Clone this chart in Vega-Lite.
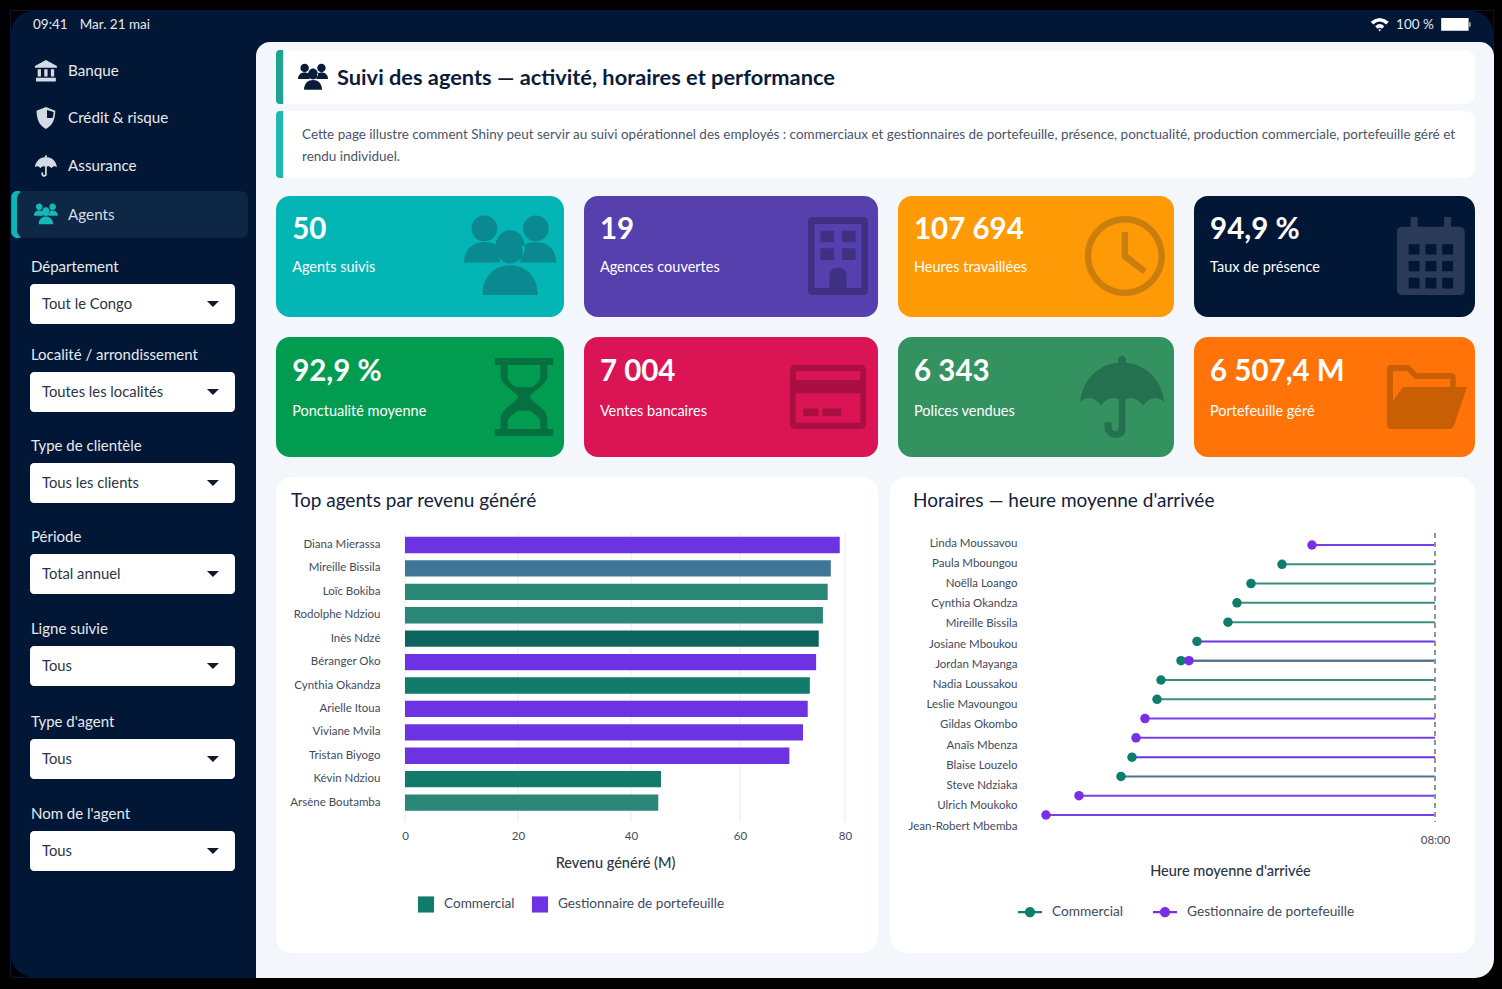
{"$schema":"https://vega.github.io/schema/vega-lite/v6.json",
"background":"#f3f6fa","padding":0,"spacing":0,
"config":{"font":"Lato","view":{"stroke":null},"axis":{"disable":true,"grid":false,"domain":false,"ticks":false,"labelFlush":false,"labelColor":"#3f4a5c","labelFontSize":11.5,"titleColor":"#2b3445","titleFontSize":14.5,"titleFontWeight":500},"text":{"align":"left","baseline":"middle","font":"Lato"},"point":{"filled":true,"opacity":1}},
"vconcat":[
{"width":1502,"height":10,"view":{"fill":"#000000"},"data":{"values":[]},"mark":"rule","encoding":{"opacity":{"value":0}}},
{"spacing":0,"hconcat":[
{"width":10,"height":968,"view":{"fill":"#000000"},"data":{"values":[]},"mark":"rule","encoding":{"opacity":{"value":0}}},
{"spacing":0,"vconcat":[
 {"width":1484,"height":32,"view":{"fill":"#021735"},"data":{"values":[{"heure":"09:41","date":"Mar. 21 mai","batterie":"100 %"}]},"layer":[
  {"mark":{"type":"text","fontSize":13.5,"color":"#e6eaf0"},"encoding":{"text":{"field":"heure"},"x":{"datum":1.55,"scale":{"domain":[0,100]}},"y":{"datum":48,"scale":{"domain":[100,0]}}}},
  {"mark":{"type":"text","fontSize":13.5,"color":"#e6eaf0"},"encoding":{"text":{"field":"date"},"x":{"datum":4.7},"y":{"datum":48}}},
  {"mark":{"type":"text","fontSize":13.5,"color":"#e6eaf0"},"encoding":{"text":{"field":"batterie"},"x":{"datum":93.4},"y":{"datum":48}}},
  {"mark":{"type":"point","shape":"M-1,-.3 Q0,-1.1 1,-.3 L.72,0 Q0,-.65 -.72,0Z M-.5,.2 Q0,-.3 .5,.2 L.25,.48 Q0,.25 -.25,.48Z M-.15,.6 Q0,.45 .15,.6 L0,.8Z","color":"#ffffff","size":324},"encoding":{"x":{"datum":92.3},"y":{"datum":45}}},
  {"mark":{"type":"point","shape":"M-.95,-.42 H.88 V.42 H-.95Z M.93,-.15 H1 V.15 H.93Z","color":"#ffffff","size":900},"encoding":{"x":{"datum":97.4},"y":{"datum":45}}},
  {"mark":{"type":"point","shape":"M-1,-1 H1 A2,2 0 0,0 -1,1Z","color":"#000000","size":484},"encoding":{"x":{"datum":0.82},"y":{"datum":37.5}}},
  {"mark":{"type":"point","shape":"M1,-1 V1 A2,2 0 0,0 -1,-1Z","color":"#000000","size":484},"encoding":{"x":{"datum":99.2},"y":{"datum":37.5}}}
 ]},
 {"spacing":0,"hconcat":[
  {"width":246,"height":936,"view":{"fill":"#021735"},"data":{"values":[{}]},"layer":[
   {"mark":{"type":"rect","color":"#10b5b5","cornerRadius":6},"encoding":{"x":{"datum":0.5,"scale":{"domain":[0,100]}},"x2":{"datum":5.7},"y":{"datum":15.92,"scale":{"domain":[100,0]}},"y2":{"datum":20.94}}},
   {"mark":{"type":"rect","color":"#0d2744","cornerRadius":8},"encoding":{"x":{"datum":2.85},"x2":{"datum":96.75},"y":{"datum":15.92},"y2":{"datum":20.94}}},
   {"mark":{"type":"point","shape":"M0,-1 L1,-.45 V-.3 H-1 V-.45Z M-.75,-.15 H-.45 V.5 H-.75Z M-.15,-.15 H.15 V.5 H-.15Z M.45,-.15 H.75 V.5 H.45Z M-.9,.62 H.9 V.95 H-.9Z","color":"#d5dbe4","size":484},"encoding":{"x":{"datum":14.6},"y":{"datum":3.1}}},
   {"mark":{"type":"point","shape":"M0,-1 L.85,-.65 C.85,.1 .6,.7 0,1 C-.6,.7 -.85,.1 -.85,-.65Z M.1,-.72 V0 H.6 C.68,-.2 .7,-.4 .7,-.55Z","color":"#d5dbe4","size":484},"encoding":{"x":{"datum":14.6},"y":{"datum":8.12}}},
   {"mark":{"type":"point","shape":"M-1,.12 C-.95,-.45 -.5,-.82 0,-.82 C.5,-.82 .95,-.45 1,.12 C.85,-.02 .68,-.02 .5,.2 C.32,-.02 .14,-.02 0,.12 C-.14,-.02 -.32,-.02 -.5,.2 C-.68,-.02 -.85,-.02 -1,.12Z M-.1,-.88 A.1,.1 0 1,1 .1,-.88 A.1,.1 0 1,1 -.1,-.88Z M-.08,.05 H.08 V.78 C.08,1.05 -.4,1.05 -.42,.72 L-.42,.6 H-.25 V.72 C-.25,.85 -.08,.85 -.08,.72Z","color":"#d5dbe4","size":484},"encoding":{"x":{"datum":14.6},"y":{"datum":13.25}}},
   {"mark":{"type":"point","shape":"M-.84,-.6 a.28,.28 0 1,1 .56,0 a.28,.28 0 1,1 -.56,0Z M.28,-.6 a.28,.28 0 1,1 .56,0 a.28,.28 0 1,1 -.56,0Z M-.32,-.2 a.32,.36 0 1,1 .64,0 a.32,.36 0 1,1 -.64,0Z M-1,.14 C-1,-.2 -.75,-.32 -.5,-.3 C-.4,-.3 -.3,-.25 -.25,-.2 C-.3,-.05 -.25,.05 -.2,.14Z M1,.14 C1,-.2 .75,-.32 .5,-.3 C.4,-.3 .3,-.25 .25,-.2 C.3,-.05 .25,.05 .2,.14Z M-.6,.85 C-.6,.4 -.3,.2 0,.2 C.3,.2 .6,.4 .6,.85Z","color":"#14b8b8","size":576},"encoding":{"x":{"datum":14.6},"y":{"datum":18.38}}},
   {"mark":{"type":"text","fontSize":15.2,"color":"#e6eaf0"},"encoding":{"text":{"datum":"Banque"},"x":{"datum":23.6},"y":{"datum":3.15}}},
   {"mark":{"type":"text","fontSize":15.2,"color":"#e6eaf0"},"encoding":{"text":{"datum":"Crédit & risque"},"x":{"datum":23.6},"y":{"datum":8.17}}},
   {"mark":{"type":"text","fontSize":15.2,"color":"#e6eaf0"},"encoding":{"text":{"datum":"Assurance"},"x":{"datum":23.6},"y":{"datum":13.3}}},
   {"mark":{"type":"text","fontSize":15.2,"color":"#d5dee8"},"encoding":{"text":{"datum":"Agents"},"x":{"datum":23.6},"y":{"datum":18.43}}},

   {"mark":{"type":"text","fontSize":15,"color":"#e6eaf0"},"encoding":{"text":{"datum":"Département"},"x":{"datum":8.5},"y":{"datum":24.09}}},
   {"mark":{"type":"rect","color":"#ffffff","cornerRadius":4},"encoding":{"x":{"datum":8.13},"x2":{"datum":91.46},"y":{"datum":25.85},"y2":{"datum":30.13}}},
   {"mark":{"type":"text","fontSize":14.8,"color":"#2b3445"},"encoding":{"text":{"datum":"Tout le Congo"},"x":{"datum":13},"y":{"datum":28.09}}},
   {"mark":{"type":"point","shape":"M-1,-.5 H1 L0,.5Z","color":"#0f1a2c","size":144},"encoding":{"x":{"datum":82.5},"y":{"datum":27.99}}},

   {"mark":{"type":"text","fontSize":15,"color":"#e6eaf0"},"encoding":{"text":{"datum":"Localité / arrondissement"},"x":{"datum":8.5},"y":{"datum":33.49}}},
   {"mark":{"type":"rect","color":"#ffffff","cornerRadius":4},"encoding":{"x":{"datum":8.13},"x2":{"datum":91.46},"y":{"datum":35.26},"y2":{"datum":39.53}}},
   {"mark":{"type":"text","fontSize":14.8,"color":"#2b3445"},"encoding":{"text":{"datum":"Toutes les localités"},"x":{"datum":13},"y":{"datum":37.49}}},
   {"mark":{"type":"point","shape":"M-1,-.5 H1 L0,.5Z","color":"#0f1a2c","size":144},"encoding":{"x":{"datum":82.5},"y":{"datum":37.39}}},

   {"mark":{"type":"text","fontSize":15,"color":"#e6eaf0"},"encoding":{"text":{"datum":"Type de clientèle"},"x":{"datum":8.5},"y":{"datum":43.21}}},
   {"mark":{"type":"rect","color":"#ffffff","cornerRadius":4},"encoding":{"x":{"datum":8.13},"x2":{"datum":91.46},"y":{"datum":44.98},"y2":{"datum":49.25}}},
   {"mark":{"type":"text","fontSize":14.8,"color":"#2b3445"},"encoding":{"text":{"datum":"Tous les clients"},"x":{"datum":13},"y":{"datum":47.22}}},
   {"mark":{"type":"point","shape":"M-1,-.5 H1 L0,.5Z","color":"#0f1a2c","size":144},"encoding":{"x":{"datum":82.5},"y":{"datum":47.12}}},

   {"mark":{"type":"text","fontSize":15,"color":"#e6eaf0"},"encoding":{"text":{"datum":"Période"},"x":{"datum":8.5},"y":{"datum":52.93}}},
   {"mark":{"type":"rect","color":"#ffffff","cornerRadius":4},"encoding":{"x":{"datum":8.13},"x2":{"datum":91.46},"y":{"datum":54.7},"y2":{"datum":58.97}}},
   {"mark":{"type":"text","fontSize":14.8,"color":"#2b3445"},"encoding":{"text":{"datum":"Total annuel"},"x":{"datum":13},"y":{"datum":56.94}}},
   {"mark":{"type":"point","shape":"M-1,-.5 H1 L0,.5Z","color":"#0f1a2c","size":144},"encoding":{"x":{"datum":82.5},"y":{"datum":56.84}}},

   {"mark":{"type":"text","fontSize":15,"color":"#e6eaf0"},"encoding":{"text":{"datum":"Ligne suivie"},"x":{"datum":8.5},"y":{"datum":62.76}}},
   {"mark":{"type":"rect","color":"#ffffff","cornerRadius":4},"encoding":{"x":{"datum":8.13},"x2":{"datum":91.46},"y":{"datum":64.53},"y2":{"datum":68.8}}},
   {"mark":{"type":"text","fontSize":14.8,"color":"#2b3445"},"encoding":{"text":{"datum":"Tous"},"x":{"datum":13},"y":{"datum":66.77}}},
   {"mark":{"type":"point","shape":"M-1,-.5 H1 L0,.5Z","color":"#0f1a2c","size":144},"encoding":{"x":{"datum":82.5},"y":{"datum":66.67}}},

   {"mark":{"type":"text","fontSize":15,"color":"#e6eaf0"},"encoding":{"text":{"datum":"Type d'agent"},"x":{"datum":8.5},"y":{"datum":72.7}}},
   {"mark":{"type":"rect","color":"#ffffff","cornerRadius":4},"encoding":{"x":{"datum":8.13},"x2":{"datum":91.46},"y":{"datum":74.47},"y2":{"datum":78.74}}},
   {"mark":{"type":"text","fontSize":14.8,"color":"#2b3445"},"encoding":{"text":{"datum":"Tous"},"x":{"datum":13},"y":{"datum":76.7}}},
   {"mark":{"type":"point","shape":"M-1,-.5 H1 L0,.5Z","color":"#0f1a2c","size":144},"encoding":{"x":{"datum":82.5},"y":{"datum":76.6}}},

   {"mark":{"type":"text","fontSize":15,"color":"#e6eaf0"},"encoding":{"text":{"datum":"Nom de l'agent"},"x":{"datum":8.5},"y":{"datum":82.53}}},
   {"mark":{"type":"rect","color":"#ffffff","cornerRadius":4},"encoding":{"x":{"datum":8.13},"x2":{"datum":91.46},"y":{"datum":84.29},"y2":{"datum":88.57}}},
   {"mark":{"type":"text","fontSize":14.8,"color":"#2b3445"},"encoding":{"text":{"datum":"Tous"},"x":{"datum":13},"y":{"datum":86.53}}},
   {"mark":{"type":"point","shape":"M-1,-.5 H1 L0,.5Z","color":"#0f1a2c","size":144},"encoding":{"x":{"datum":82.5},"y":{"datum":86.43}}},
   {"mark":{"type":"point","shape":"M-1,1 V-1 A2,2 0 0,0 1,1Z","color":"#000000","size":484},"encoding":{"x":{"datum":4.9},"y":{"datum":98.7}}}
  ]},
  {"width":20,"height":936,"data":{"values":[{}]},"mark":{"type":"point","shape":"M-1,-1 H1 A2,2 0 0,0 -1,1Z","color":"#021735","size":196},"encoding":{"x":{"datum":35,"scale":{"domain":[0,100]}},"y":{"datum":0.75,"scale":{"domain":[100,0]}}}},
  {"spacing":0,"vconcat":[
    {"width":1,"height":8,"data":{"values":[]},"mark":"rule","encoding":{"opacity":{"value":0}}},
    {"width":1199,"height":54,"view":{"fill":"#ffffff","cornerRadius":10},"data":{"values":[{"titre":"Suivi des agents — activité, horaires et performance"}]},"layer":[
      {"mark":{"type":"rect","color":"#1fa38f","cornerRadiusTopLeft":8,"cornerRadiusBottomLeft":8},"encoding":{"x":{"datum":0,"scale":{"domain":[0,100]}},"x2":{"datum":0.6},"y":{"datum":0,"scale":{"domain":[100,0]}},"y2":{"datum":100}}},
      {"mark":{"type":"point","shape":"M-.84,-.6 a.28,.28 0 1,1 .56,0 a.28,.28 0 1,1 -.56,0Z M.28,-.6 a.28,.28 0 1,1 .56,0 a.28,.28 0 1,1 -.56,0Z M-.32,-.2 a.32,.36 0 1,1 .64,0 a.32,.36 0 1,1 -.64,0Z M-1,.14 C-1,-.2 -.75,-.32 -.5,-.3 C-.4,-.3 -.3,-.25 -.25,-.2 C-.3,-.05 -.25,.05 -.2,.14Z M1,.14 C1,-.2 .75,-.32 .5,-.3 C.4,-.3 .3,-.25 .25,-.2 C.3,-.05 .25,.05 .2,.14Z M-.6,.85 C-.6,.4 -.3,.2 0,.2 C.3,.2 .6,.4 .6,.85Z","color":"#0b1c3a","size":900},"encoding":{"x":{"datum":3.09},"y":{"datum":50}}},
      {"mark":{"type":"text","fontSize":21.8,"fontWeight":700,"color":"#0b1c3a"},"encoding":{"text":{"field":"titre"},"x":{"datum":5.09},"y":{"datum":52}}}]},
    {"width":1,"height":7,"data":{"values":[]},"mark":"rule","encoding":{"opacity":{"value":0}}},
    {"width":1199,"height":67,"view":{"fill":"#ffffff","cornerRadius":10},"data":{"values":[{"ligne1":"Cette page illustre comment Shiny peut servir au suivi opérationnel des employés : commerciaux et gestionnaires de portefeuille, présence, ponctualité, production commerciale, portefeuille géré et","ligne2":"rendu individuel."}]},"layer":[
      {"mark":{"type":"rect","color":"#20b8b0","cornerRadiusTopLeft":8,"cornerRadiusBottomLeft":8},"encoding":{"x":{"datum":0,"scale":{"domain":[0,100]}},"x2":{"datum":0.6},"y":{"datum":0,"scale":{"domain":[100,0]}},"y2":{"datum":100}}},
      {"mark":{"type":"text","fontSize":13.48,"color":"#4a5568"},"encoding":{"text":{"field":"ligne1"},"x":{"datum":2.17},"y":{"datum":35.5}}},
      {"mark":{"type":"text","fontSize":13.48,"color":"#4a5568"},"encoding":{"text":{"field":"ligne2"},"x":{"datum":2.17},"y":{"datum":68.5}}}]},
    {"width":1,"height":18,"data":{"values":[]},"mark":"rule","encoding":{"opacity":{"value":0}}},
    {"spacing":20,"hconcat":[
     {"width":288,"height":121,"view":{"fill":"#04b5b5","cornerRadius":14},"data":{"values":[{"valeur":"50","libelle":"Agents suivis"}]},"layer":[
      {"mark":{"type":"point","shape":"M-.84,-.6 a.28,.28 0 1,1 .56,0 a.28,.28 0 1,1 -.56,0Z M.28,-.6 a.28,.28 0 1,1 .56,0 a.28,.28 0 1,1 -.56,0Z M-.32,-.2 a.32,.36 0 1,1 .64,0 a.32,.36 0 1,1 -.64,0Z M-1,.14 C-1,-.2 -.75,-.32 -.5,-.3 C-.4,-.3 -.3,-.25 -.25,-.2 C-.3,-.05 -.25,.05 -.2,.14Z M1,.14 C1,-.2 .75,-.32 .5,-.3 C.4,-.3 .3,-.25 .25,-.2 C.3,-.05 .25,.05 .2,.14Z M-.6,.85 C-.6,.4 -.3,.2 0,.2 C.3,.2 .6,.4 .6,.85Z","color":"#0a8a90","size":8464},"encoding":{"x":{"datum":81.3,"scale":{"domain":[0,100]}},"y":{"datum":49.6,"scale":{"domain":[100,0]}}}},
      {"mark":{"type":"text","fontSize":29.5,"fontWeight":700,"color":"#ffffff"},"encoding":{"text":{"field":"valeur"},"x":{"datum":5.6},"y":{"datum":28}}},
      {"mark":{"type":"text","fontSize":14.5,"color":"#ffffff"},"encoding":{"text":{"field":"libelle"},"x":{"datum":5.6},"y":{"datum":59.8}}}]},
     {"width":294,"height":121,"view":{"fill":"#5640ae","cornerRadius":14},"data":{"values":[{"valeur":"19","libelle":"Agences couvertes"}]},"layer":[
      {"mark":{"type":"point","shape":"M-.65,-1 H.65 Q.77,-1 .77,-.88 V.88 Q.77,1 .65,1 H-.65 Q-.77,1 -.77,.88 V-.88 Q-.77,-1 -.65,-1Z M-.6,-.82 V.82 H-.22 V.5 Q-.22,.3 0,.3 Q.22,.3 .22,.5 V.82 H.6 V-.82Z M-.45,-.65 H-.1 V-.35 H-.45Z M.1,-.65 H.45 V-.35 H.1Z M-.45,-.2 H-.1 V.1 H-.45Z M.1,-.2 H.45 V.1 H.1Z","color":"#3f3182","size":6084},"encoding":{"x":{"datum":86.4,"scale":{"domain":[0,100]}},"y":{"datum":49.6,"scale":{"domain":[100,0]}}}},
      {"mark":{"type":"text","fontSize":29.5,"fontWeight":700,"color":"#ffffff"},"encoding":{"text":{"field":"valeur"},"x":{"datum":5.4},"y":{"datum":28}}},
      {"mark":{"type":"text","fontSize":14.5,"color":"#ffffff"},"encoding":{"text":{"field":"libelle"},"x":{"datum":5.4},"y":{"datum":59.8}}}]},
     {"width":276,"height":121,"view":{"fill":"#fe9a05","cornerRadius":14},"data":{"values":[{"valeur":"107 694","libelle":"Heures travaillées"}]},"layer":[
      {"mark":{"type":"point","shape":"M-1,0 A1,1 0 1,1 1,0 A1,1 0 1,1 -1,0Z M-.84,0 A.84,.84 0 1,0 .84,0 A.84,.84 0 1,0 -.84,0Z M-.08,-.6 H.08 V-.05 L.55,.33 L.45,.45 L-.08,.05Z","color":"#c97e0e","size":6400},"encoding":{"x":{"datum":82.2,"scale":{"domain":[0,100]}},"y":{"datum":49.6,"scale":{"domain":[100,0]}}}},
      {"mark":{"type":"text","fontSize":29.5,"fontWeight":700,"color":"#ffffff"},"encoding":{"text":{"field":"valeur"},"x":{"datum":5.8},"y":{"datum":28}}},
      {"mark":{"type":"text","fontSize":14.5,"color":"#ffffff"},"encoding":{"text":{"field":"libelle"},"x":{"datum":5.8},"y":{"datum":59.8}}}]},
     {"width":281,"height":121,"view":{"fill":"#021735","cornerRadius":14},"data":{"values":[{"valeur":"94,9 %","libelle":"Taux de présence"}]},"layer":[
      {"mark":{"type":"point","shape":"M-.72,-.75 H-.52 V-1 H-.34 V-.75 H.34 V-1 H.52 V-.75 H.72 Q.87,-.75 .87,-.6 V.85 Q.87,1 .72,1 H-.72 Q-.87,1 -.87,.85 V-.6 Q-.87,-.75 -.72,-.75Z M-.57,-.3 V-.04 H-.29 V-.3Z M-.14,-.3 V-.04 H.14 V-.3Z M.29,-.3 V-.04 H.57 V-.3Z M-.57,.13 V.39 H-.29 V.13Z M-.14,.13 V.39 H.14 V.13Z M.29,.13 V.39 H.57 V.13Z M-.57,.56 V.83 H-.29 V.56Z M-.14,.56 V.83 H.14 V.56Z M.29,.56 V.83 H.57 V.56Z","color":"#2b3a57","size":6084},"encoding":{"x":{"datum":84.3,"scale":{"domain":[0,100]}},"y":{"datum":49.6,"scale":{"domain":[100,0]}}}},
      {"mark":{"type":"text","fontSize":29.5,"fontWeight":700,"color":"#ffffff"},"encoding":{"text":{"field":"valeur"},"x":{"datum":5.7},"y":{"datum":28}}},
      {"mark":{"type":"text","fontSize":14.5,"color":"#ffffff"},"encoding":{"text":{"field":"libelle"},"x":{"datum":5.7},"y":{"datum":59.8}}}]}
    ]},
    {"width":1,"height":20,"data":{"values":[]},"mark":"rule","encoding":{"opacity":{"value":0}}},
    {"spacing":20,"hconcat":[
     {"width":288,"height":120,"view":{"fill":"#029c50","cornerRadius":14},"data":{"values":[{"valeur":"92,9 %","libelle":"Ponctualité moyenne"}]},"layer":[
      {"mark":{"type":"point","shape":"M-.75,-1 H.75 V-.82 H-.75Z M-.75,.82 H.75 V1 H-.75Z M-.6,-.82 V-.55 C-.6,-.3 -.2,-.15 -.15,0 C-.2,.15 -.6,.3 -.6,.55 V.82 H.6 V.55 C.6,.3 .2,.15 .15,0 C.2,-.15 .6,-.3 .6,-.55 V-.82Z M-.42,-.82 H.42 V-.55 C.42,-.42 .3,-.3 .2,-.25 H-.2 C-.3,-.3 -.42,-.42 -.42,-.55Z M-.15,.35 H.15 C.3,.45 .42,.55 .42,.62 V.82 H-.42 V.62 C-.42,.55 -.3,.45 -.15,.35Z","color":"#067040","size":6084},"encoding":{"x":{"datum":86.1,"scale":{"domain":[0,100]}},"y":{"datum":50,"scale":{"domain":[100,0]}}}},
      {"mark":{"type":"text","fontSize":29.5,"fontWeight":700,"color":"#ffffff"},"encoding":{"text":{"field":"valeur"},"x":{"datum":5.6},"y":{"datum":29.1}}},
      {"mark":{"type":"text","fontSize":14.5,"color":"#ffffff"},"encoding":{"text":{"field":"libelle"},"x":{"datum":5.6},"y":{"datum":62.4}}}]},
     {"width":294,"height":120,"view":{"fill":"#da1455","cornerRadius":14},"data":{"values":[{"valeur":"7 004","libelle":"Ventes bancaires"}]},"layer":[
      {"mark":{"type":"point","shape":"M-.85,-.84 H.85 Q1,-.84 1,-.69 V.69 Q1,.84 .85,.84 H-.85 Q-1,.84 -1,.69 V-.69 Q-1,-.84 -.85,-.84Z M-.85,-.68 V-.45 H.85 V-.68Z M-.85,-.1 V.68 H.85 V-.1Z M-.65,.3 H-.25 V.5 H-.65Z M-.15,.3 H.35 V.5 H-.15Z","color":"#a90f42","size":5776},"encoding":{"x":{"datum":83,"scale":{"domain":[0,100]}},"y":{"datum":50,"scale":{"domain":[100,0]}}}},
      {"mark":{"type":"text","fontSize":29.5,"fontWeight":700,"color":"#ffffff"},"encoding":{"text":{"field":"valeur"},"x":{"datum":5.4},"y":{"datum":29.1}}},
      {"mark":{"type":"text","fontSize":14.5,"color":"#ffffff"},"encoding":{"text":{"field":"libelle"},"x":{"datum":5.4},"y":{"datum":62.4}}}]},
     {"width":276,"height":120,"view":{"fill":"#33925f","cornerRadius":14},"data":{"values":[{"valeur":"6 343","libelle":"Polices vendues"}]},"layer":[
      {"mark":{"type":"point","shape":"M-1,.12 C-.95,-.45 -.5,-.82 0,-.82 C.5,-.82 .95,-.45 1,.12 C.85,-.02 .68,-.02 .5,.2 C.32,-.02 .14,-.02 0,.12 C-.14,-.02 -.32,-.02 -.5,.2 C-.68,-.02 -.85,-.02 -1,.12Z M-.1,-.88 A.1,.1 0 1,1 .1,-.88 A.1,.1 0 1,1 -.1,-.88Z M-.08,.05 H.08 V.78 C.08,1.05 -.4,1.05 -.42,.72 L-.42,.6 H-.25 V.72 C-.25,.85 -.08,.85 -.08,.72Z","color":"#24714f","size":7056},"encoding":{"x":{"datum":81.2,"scale":{"domain":[0,100]}},"y":{"datum":50,"scale":{"domain":[100,0]}}}},
      {"mark":{"type":"text","fontSize":29.5,"fontWeight":700,"color":"#ffffff"},"encoding":{"text":{"field":"valeur"},"x":{"datum":5.8},"y":{"datum":29.1}}},
      {"mark":{"type":"text","fontSize":14.5,"color":"#ffffff"},"encoding":{"text":{"field":"libelle"},"x":{"datum":5.8},"y":{"datum":62.4}}}]},
     {"width":281,"height":120,"view":{"fill":"#ff7308","cornerRadius":14},"data":{"values":[{"valeur":"6 507,4 M","libelle":"Portefeuille géré"}]},"layer":[
      {"mark":{"type":"point","shape":"M-1,-.7 Q-1,-.8 -.9,-.8 H-.45 L-.25,-.6 H.6 Q.72,-.6 .72,-.48 V-.25 H.58 V-.45 H-.3 L-.5,-.65 H-.85 V.1 L-.6,-.25 H1 L.68,.7 Q.65,.8 .55,.8 H-.9 Q-1,.8 -1,.7Z","color":"#c95f04","size":6400},"encoding":{"x":{"datum":82.9,"scale":{"domain":[0,100]}},"y":{"datum":50,"scale":{"domain":[100,0]}}}},
      {"mark":{"type":"text","fontSize":29.5,"fontWeight":700,"color":"#ffffff"},"encoding":{"text":{"field":"valeur"},"x":{"datum":5.7},"y":{"datum":29.1}}},
      {"mark":{"type":"text","fontSize":14.5,"color":"#ffffff"},"encoding":{"text":{"field":"libelle"},"x":{"datum":5.7},"y":{"datum":62.4}}}]}
    ]},
    {"width":1,"height":20,"data":{"values":[]},"mark":"rule","encoding":{"opacity":{"value":0}}},
    {"spacing":12,"resolve":{"scale":{"color":"independent"},"legend":{"color":"independent"}},"hconcat":[
     {"width":602,"height":476,"view":{"fill":"#ffffff","cornerRadius":16},
      "title":{"text":"Top agents par revenu généré","anchor":"start","frame":"group","offset":-34,"dx":15,"fontSize":19,"fontWeight":400,"color":"#13203a"},
      "resolve":{"scale":{"y":"independent"},"axis":{"y":"independent"}},
      "layer":[
       {"data":{"values":[{"v":0},{"v":20},{"v":40},{"v":60},{"v":80}]},"mark":{"type":"rule","color":"#e8ebf0","strokeWidth":1},
        "encoding":{"x":{"field":"v","type":"quantitative","title":"Revenu généré (M)","scale":{"domain":[0,20,40,60,80],"range":[129,242,355,464,569]},"axis":{"disable":false,"values":[0,20,40,60,80],"offset":-131,"labelPadding":8,"titlePadding":15,"titleX":339}},"y":{"datum":0,"scale":{"domain":[0,1],"range":[56,345]}},"y2":{"datum":1}}},
       {"data":{"values":[
         {"agent":"Diana Mierassa","type":"Gestionnaire de portefeuille","revenu":79.0},
         {"agent":"Mireille Bissila","type":"Commercial","revenu":77.3},
         {"agent":"Loïc Bokiba","type":"Commercial","revenu":76.7},
         {"agent":"Rodolphe Ndziou","type":"Commercial","revenu":75.8},
         {"agent":"Inès Ndzé","type":"Commercial","revenu":75.0},
         {"agent":"Béranger Oko","type":"Gestionnaire de portefeuille","revenu":74.5},
         {"agent":"Cynthia Okandza","type":"Commercial","revenu":73.3},
         {"agent":"Arielle Itoua","type":"Gestionnaire de portefeuille","revenu":72.9},
         {"agent":"Viviane Mvila","type":"Gestionnaire de portefeuille","revenu":72.0},
         {"agent":"Tristan Biyogo","type":"Gestionnaire de portefeuille","revenu":69.4},
         {"agent":"Kévin Ndziou","type":"Commercial","revenu":45.5},
         {"agent":"Arsène Boutamba","type":"Commercial","revenu":45.0}]},
        "mark":{"type":"bar"},
        "encoding":{
         "x":{"field":"revenu","type":"quantitative","scale":{"domain":[0,20,40,60,80],"range":[129,242,355,464,569]},"title":"Revenu généré (M)","axis":{"disable":false,"values":[0,20,40,60,80],"offset":-131,"labelPadding":8,"titlePadding":15,"titleX":339}},
         "y":{"field":"agent","type":"nominal","sort":null,"title":null,"scale":{"range":[56.3,337.3],"paddingInner":0.3,"paddingOuter":0.15},"axis":{"disable":false,"offset":-104,"labelPadding":0}},
         "color":{"condition":[{"test":"datum.agent==='Mireille Bissila'","value":"#3f7597"},{"test":"datum.agent==='Inès Ndzé'","value":"#0c645e"},{"test":"datum.agent==='Loïc Bokiba'||datum.agent==='Rodolphe Ndziou'||datum.agent==='Arsène Boutamba'","value":"#2a8676"}],
          "field":"type","type":"nominal","scale":{"domain":["Commercial","Gestionnaire de portefeuille"],"range":["#127a6a","#6d33e3"]},
          "legend":{"title":null,"orient":"none","direction":"horizontal","legendX":141,"legendY":418,"symbolType":"square","symbolSize":260,"symbolOpacity":1,"labelFontSize":13.6,"labelColor":"#3f4a5c","labelOffset":9,"labelLimit":300,"columnPadding":16}}}}
      ]},
     {"width":585,"height":476,"view":{"fill":"#ffffff","cornerRadius":16},
      "title":{"text":"Horaires — heure moyenne d'arrivée","anchor":"start","frame":"group","offset":-34,"dx":23,"fontSize":19,"fontWeight":400,"color":"#13203a"},
      "data":{"values":[
        {"agent":"Linda Moussavou","type":"Gestionnaire de portefeuille","arrivee":467.7},
        {"agent":"Paula Mboungou","type":"Commercial","arrivee":464.7},
        {"agent":"Noëlla Loango","type":"Commercial","arrivee":461.6},
        {"agent":"Cynthia Okandza","type":"Commercial","arrivee":460.2},
        {"agent":"Mireille Bissila","type":"Commercial","arrivee":459.3},
        {"agent":"Josiane Mboukou","type":"Commercial","arrivee":456.2},
        {"agent":"Jordan Mayanga","type":"Commercial","arrivee":454.6},
        {"agent":"Jordan Mayanga","type":"Gestionnaire de portefeuille","arrivee":455.4},
        {"agent":"Nadia Loussakou","type":"Commercial","arrivee":452.6},
        {"agent":"Leslie Mavoungou","type":"Commercial","arrivee":452.2},
        {"agent":"Gildas Okombo","type":"Gestionnaire de portefeuille","arrivee":451.0},
        {"agent":"Anaïs Mbenza","type":"Gestionnaire de portefeuille","arrivee":450.1},
        {"agent":"Blaise Louzelo","type":"Commercial","arrivee":449.7},
        {"agent":"Steve Ndziaka","type":"Commercial","arrivee":448.6},
        {"agent":"Ulrich Moukoko","type":"Gestionnaire de portefeuille","arrivee":444.4},
        {"agent":"Jean-Robert Mbemba","type":"Gestionnaire de portefeuille","arrivee":441.1}]},
      "resolve":{"scale":{"y":"independent"},"axis":{"y":"independent"}},
      "layer":[
       {"mark":{"type":"point","opacity":0},
        "encoding":{"x":{"field":"arrivee","type":"quantitative","scale":{"domain":[440,480],"range":[145,545]},"title":"Heure moyenne d'arrivée","axis":{"disable":false,"values":[480],"labelExpr":"'08:00'","offset":-122,"labelPadding":3,"titlePadding":19,"titleX":340}},
         "y":{"field":"agent","type":"nominal","sort":null,"title":null,"scale":{"type":"point","padding":0,"range":[66,349]},"axis":{"disable":false,"offset":-127,"labelPadding":0}}}},
       {"mark":{"type":"rule","strokeWidth":2},
        "encoding":{"x":{"field":"arrivee","type":"quantitative","title":"Heure moyenne d'arrivée","axis":{"disable":false,"values":[480],"labelExpr":"'08:00'","offset":-122,"labelPadding":3,"titlePadding":19,"titleX":340}},"x2":{"datum":480},
         "y":{"field":"agent","type":"nominal","sort":null,"scale":{"type":"point","padding":0,"range":[68,338]}},
         "color":{"condition":[{"test":"datum.agent==='Josiane Mboukou'||datum.agent==='Blaise Louzelo'","value":"#6d33e3"},{"test":"datum.agent==='Jordan Mayanga'||datum.agent==='Steve Ndziaka'","value":"#4f7291"},{"test":"datum.type==='Commercial'","value":"#3b8f7f"}],"value":"#7a3fe6"}}},
       {"mark":{"type":"rule","color":"#8a94a6","strokeDash":[5,4],"strokeWidth":1.5},
        "encoding":{"x":{"datum":480,"title":"Heure moyenne d'arrivée","axis":{"disable":false,"values":[480],"labelExpr":"'08:00'","offset":-122,"labelPadding":3,"titlePadding":19,"titleX":340}},"y":{"datum":0,"scale":{"domain":[0,1],"range":[56,345]}},"y2":{"datum":1}}},
       {"mark":{"type":"point","size":90},
        "encoding":{"x":{"field":"arrivee","type":"quantitative","title":"Heure moyenne d'arrivée","axis":{"disable":false,"values":[480],"labelExpr":"'08:00'","offset":-122,"labelPadding":3,"titlePadding":19,"titleX":340}},
         "y":{"field":"agent","type":"nominal","sort":null,"scale":{"type":"point","padding":0,"range":[68,338]}},
         "color":{"field":"type","type":"nominal","scale":{"domain":["Commercial","Gestionnaire de portefeuille"],"range":["#0f7d6c","#7a2fe6"]},"legend":{"title":null,"orient":"none","direction":"horizontal","legendX":127,"legendY":422,"symbolType":"M-1,-.1 H1 V.1 H-1Z M-.42,0 A.42,.42 0 1,1 .42,0 A.42,.42 0 1,1 -.42,0Z","symbolSize":576,"symbolOpacity":1,"labelFontSize":13.7,"labelColor":"#3f4a5c","labelOffset":9,"labelLimit":300,"columnPadding":28}}}}
      ]}
    ]}
  ]},
  {"width":19,"height":936,"data":{"values":[{}]},"layer":[
   {"mark":{"type":"point","shape":"M1,-1 V1 A2,2 0 0,0 -1,-1Z","color":"#021735","size":196},"encoding":{"x":{"datum":63,"scale":{"domain":[0,100]}},"y":{"datum":0.75,"scale":{"domain":[100,0]}}}},
   {"mark":{"type":"point","shape":"M1,1 H-1 A2,2 0 0,0 1,-1Z","color":"#000000","size":361},"encoding":{"x":{"datum":50},"y":{"datum":98.98}}}]}
 ]}
]},
{"width":8,"height":968,"view":{"fill":"#000000"},"data":{"values":[]},"mark":"rule","encoding":{"opacity":{"value":0}}}
]},
{"width":1502,"height":11,"view":{"fill":"#000000"},"data":{"values":[]},"mark":"rule","encoding":{"opacity":{"value":0}}}
]}
